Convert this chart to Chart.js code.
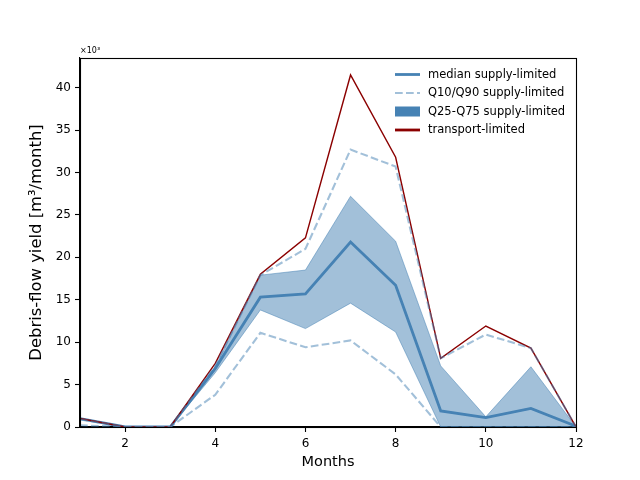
<!DOCTYPE html>
<html>
<head>
<meta charset="utf-8">
<script src="https://cdn.jsdelivr.net/npm/chart.js@4.4.1/dist/chart.umd.min.js"></script>
<style>
html,body{margin:0;padding:0;background:#fff;}
#wrap{width:640px;height:480px;}
</style>
</head>
<body>
<div id="wrap"><canvas id="c" width="640" height="480"></canvas></div>
<script>
const months    = [1, 2, 3, 4, 5, 6, 7, 8, 9, 10, 11, 12];
const transport = [1.0, 0, 0, 7.5, 18.0, 22.3, 41.5, 31.8, 8.1, 11.9, 9.3, 0];
const q90       = [0.9, 0, 0, 7.2, 17.9, 21.0, 32.7, 30.7, 8.1, 10.9, 9.3, 0];
const q75       = [1.0, 0, 0, 7.1, 17.9, 18.5, 27.2, 21.9, 7.2, 1.2, 7.1, 0];
const median    = [1.0, 0, 0, 6.9, 15.3, 15.7, 21.8, 16.7, 1.9, 1.1, 2.2, 0.1];
const q25       = [0.9, 0, 0, 6.4, 13.8, 11.6, 14.6, 11.2, 0, 0, 0, 0];
const q10       = [0.2, 0, 0, 3.8, 11.1, 9.4, 10.2, 6.2, 0, 0, 0, 0];
const xTicks = [2, 4, 6, 8, 10, 12];
const yTicks = [0, 5, 10, 15, 20, 25, 30, 35, 40];
const legendLabels = ['median supply-limited', 'Q10/Q90 supply-limited', 'Q25-Q75 supply-limited', 'transport-limited'];

const FONT = "'DejaVu Sans', sans-serif";
const steel = '#4682b4';
const steelA = 'rgba(70,130,180,0.5)';
const dark = '#8b0000';

const pts = arr => months.map((m, i) => ({x: m, y: arr[i]}));

const frameLegend = {
  id: 'frameLegend',
  afterDraw(chart) {
    const ctx = chart.ctx, a = chart.chartArea;
    ctx.save();
    ctx.strokeStyle = '#000';
    ctx.lineWidth = 1.1;
    ctx.strokeRect(Math.round(a.left) + 0.5, Math.round(a.top) + 0.5,
                   Math.round(a.right - a.left), Math.round(a.bottom - a.top));
    // offset text
    ctx.fillStyle = '#000';
    ctx.font = '8px ' + FONT;
    ctx.textBaseline = 'alphabetic';
    ctx.textAlign = 'left';
    ctx.fillText('\u00d710\u00b3', a.left, a.top - 5);
    // legend
    const hx0 = 395, hx1 = 420, tx = 428;
    const rows = [74.5, 93, 111.5, 130];
    ctx.font = '11.5px ' + FONT;
    ctx.textBaseline = 'middle';
    rows.forEach((y, i) => {
      ctx.save();
      if (i === 0) {
        ctx.strokeStyle = steel; ctx.lineWidth = 2.8;
        ctx.beginPath(); ctx.moveTo(hx0, y); ctx.lineTo(hx1, y); ctx.stroke();
      } else if (i === 1) {
        ctx.strokeStyle = steelA; ctx.lineWidth = 2.1; ctx.setLineDash([7.7, 3.3]);
        ctx.beginPath(); ctx.moveTo(hx0, y); ctx.lineTo(hx1, y); ctx.stroke();
      } else if (i === 2) {
        ctx.fillStyle = steel;
        ctx.fillRect(hx0, y - 5, hx1 - hx0, 10);
      } else {
        ctx.strokeStyle = dark; ctx.lineWidth = 2.8;
        ctx.beginPath(); ctx.moveTo(hx0, y); ctx.lineTo(hx1, y); ctx.stroke();
      }
      ctx.restore();
      ctx.fillStyle = '#000';
      ctx.fillText(legendLabels[i], tx, y + 0.5);
    });
    ctx.restore();
  }
};

new Chart(document.getElementById('c'), {
  type: 'line',
  data: {
    datasets: [
      {label: 'Q25', data: pts(q25), borderColor: steelA, borderWidth: 1, pointRadius: 0, fill: false, order: 6, tension: 0},
      {label: 'Q75', data: pts(q75), borderColor: steelA, backgroundColor: steelA, borderWidth: 1, pointRadius: 0, fill: 0, order: 5, tension: 0},
      {label: 'median', data: pts(median), borderColor: steel, borderWidth: 2.8, pointRadius: 0, fill: false, order: 3, tension: 0},
      {label: 'transport', data: pts(transport), borderColor: dark, borderWidth: 1.4, pointRadius: 0, fill: false, order: 2, tension: 0},
      {label: 'Q10', data: pts(q10), borderColor: steelA, borderWidth: 2.1, borderDash: [7.7, 3.3], pointRadius: 0, fill: false, order: 1, tension: 0},
      {label: 'Q90', data: pts(q90), borderColor: steelA, borderWidth: 2.1, borderDash: [7.7, 3.3], pointRadius: 0, fill: false, order: 1, tension: 0}
    ]
  },
  options: {
    responsive: false,
    animation: false,
    devicePixelRatio: 1,
    layout: {padding: {left: 0, top: 58, right: 64, bottom: 0}},
    plugins: {legend: {display: false}, tooltip: {enabled: false}},
    scales: {
      x: {
        type: 'linear', min: 1, max: 12,
        afterBuildTicks: s => { s.ticks = xTicks.map(v => ({value: v})); },
        afterFit: s => { s.height = 53; },
        grid: {display: true, drawOnChartArea: false, drawTicks: true, tickLength: 5, tickColor: '#000', tickWidth: 1.1},
        border: {display: true, color: '#000', width: 1.1},
        ticks: {color: '#000', font: {family: FONT, size: 12}, padding: 5, maxRotation: 0, autoSkip: false},
        title: {display: true, text: 'Months', color: '#000', font: {family: FONT, size: 14.5}, padding: {top: 0, bottom: 9}}
      },
      y: {
        type: 'linear', min: 0, max: 43.5,
        afterBuildTicks: s => { s.ticks = yTicks.map(v => ({value: v})); },
        afterFit: s => { s.width = 80; },
        grid: {display: true, drawOnChartArea: false, drawTicks: true, tickLength: 5, tickColor: '#000', tickWidth: 1.1},
        border: {display: true, color: '#000', width: 1.1},
        ticks: {color: '#000', font: {family: FONT, size: 12}, padding: 4, autoSkip: false},
        title: {display: true, text: 'Debris-flow yield [m\u00b3/month]', color: '#000', font: {family: FONT, size: 16.4}, padding: {top: 27, bottom: 0}}
      }
    }
  },
  plugins: [frameLegend]
});
</script>
</body>
</html>
